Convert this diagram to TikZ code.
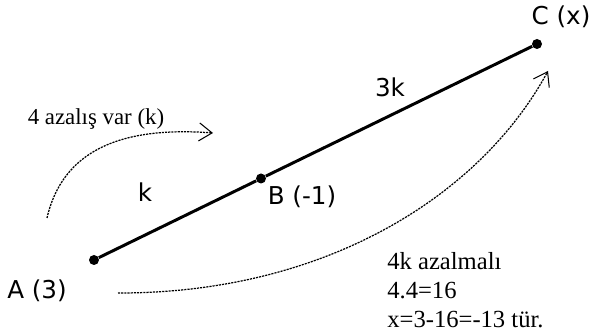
\documentclass[tikz,border=0pt]{standalone}
\usepackage{fontspec}
\setmainfont{Liberation Serif}
\newfontfamily\lblfont{DejaVu Sans}
\usetikzlibrary{arrows.meta}

\begin{document}
\begin{tikzpicture}[>={Straight Barb[length=2.6mm,width=3.6mm,line width=0.6pt]},
    dot/.style={circle, fill=black, inner sep=0pt, minimum size=2mm},
    seg/.style={line width=1.7pt},
    lbl/.style={font=\lblfont\fontsize{14}{16}\selectfont},
    note/.style={font=\fontsize{13}{16}\selectfont},
    dotarrow/.style={->, line width=0.7pt, dash pattern=on 1.2pt off 0.6pt}]
    \useasboundingbox (0,0) rectangle (11.94,6.62);

    % Noktalar
    \node[dot] (A) at (1.88,1.42) {};
    \node[dot] (B) at (5.22,3.05) {};
    \node[dot] (C) at (10.74,5.74) {};

    \draw[seg] (A) -- (B) -- (C);

    % Etiketler
    \node[lbl] (lA) at (0.74,0.8) {A (3)};
    \node[lbl] (lB) at (6.04,2.68) {B (-1)};
    \node[lbl] (lC) at (11.22,6.28) {C (x)};
    \node[lbl] (l3k) at (7.8,4.88) {3k};
    \node[lbl] (lk) at (2.9,2.78) {k};

    \node[note] (t1) at (1.92,4.24) {4 azalış var (k)};
    \node[note, font=\fontsize{14}{16.5}\selectfont, align=left, anchor=north west, inner sep=0pt] (t2) at (7.74,1.58)
        {4k azalmalı\\4.4=16\\x=3-16=-13 tür.};

    % Kesikli oklar
    \coordinate (s1) at (0.94,2.26);
    \coordinate (e1) at (4.26,3.96);
    \draw[dotarrow] (s1) .. controls (1.25,3.6) and (2.4,4.1) .. (e1);

    \coordinate (s2) at (2.36,0.76);
    \coordinate (e2) at (10.96,5.2);
    \draw[dotarrow] (s2) .. controls (6.5,0.75) and (9.6,2.7) .. (e2);
\end{tikzpicture}
\end{document}
